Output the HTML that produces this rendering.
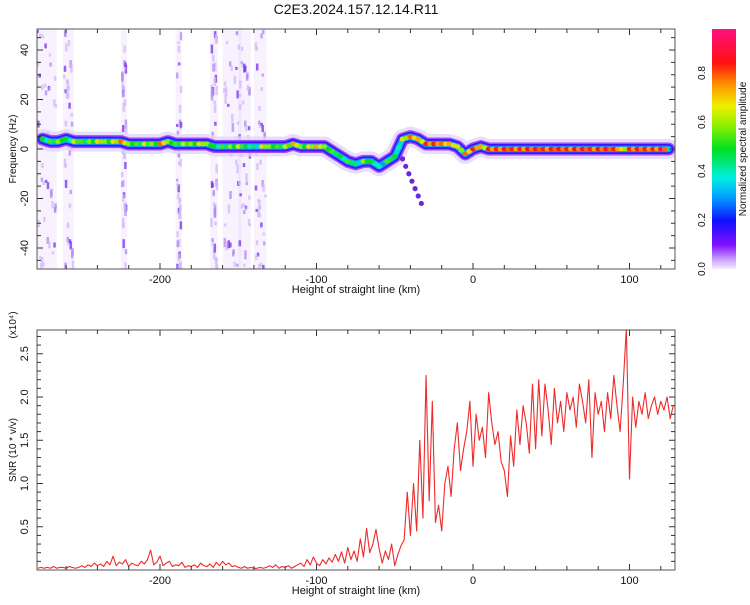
<!DOCTYPE html>
<html><head><meta charset="utf-8"><style>
body{margin:0;background:#fff;width:750px;height:600px;overflow:hidden;font-family:"Liberation Sans",sans-serif}
svg text{font-family:"Liberation Sans",sans-serif;fill:#111}
</style></head><body>
<svg id="c" width="750" height="600" viewBox="0 0 750 600" xmlns="http://www.w3.org/2000/svg">
<defs>
<linearGradient id="cmap" x1="0" y1="1" x2="0" y2="0">
<stop offset="0" stop-color="#f4ecff"/><stop offset="0.04" stop-color="#c9a0ff"/><stop offset="0.1" stop-color="#8010ff"/>
<stop offset="0.2" stop-color="#1010ff"/><stop offset="0.3" stop-color="#00a0ff"/><stop offset="0.38" stop-color="#00f0e0"/>
<stop offset="0.5" stop-color="#00e020"/><stop offset="0.6" stop-color="#90f000"/><stop offset="0.68" stop-color="#f0f000"/>
<stop offset="0.77" stop-color="#ff9000"/><stop offset="0.86" stop-color="#ff1010"/><stop offset="1" stop-color="#ff1080"/>
</linearGradient>
<clipPath id="clipTop"><rect x="37" y="29" width="638" height="240"/></clipPath>
<clipPath id="clipBot"><rect x="37" y="330" width="638" height="240"/></clipPath>
</defs>
<text x="356" y="14" font-size="14" text-anchor="middle">C2E3.2024.157.12.14.R11</text>
<g id="top"></g>
<g id="bot"></g>
<g id="cb"></g>
</svg>
<script>
// ---- data ----
const ridgeStart = -275, ridgeStep = 5;
const ridgeFreq = [4,3,3,4,3,3,3,3,3,3,3,2,2,2,2,2,3,2,2,2,2,2,1,1,1,1,1,1,1,1,1,1,2,1,1,1,1,-1,-3,-5,-6,-5,-5,-7,-5,-3,4,5,4,2,2,2,2,1,-2,0,1,0,0,0,0,0,0,0,0,0,0,0,0,0,0,0,0,0,0,0,0,0,0,0,0];
const ridgeAmp = [0.5,0.55,0.6,0.5,0.65,0.55,0.6,0.7,0.6,0.7,0.8,0.6,0.55,0.65,0.6,0.8,0.6,0.55,0.65,0.6,0.7,0.6,0.5,0.55,0.6,0.65,0.5,0.45,0.7,0.6,0.55,0.65,0.75,0.6,0.7,0.75,0.6,0.55,0.5,0.55,0.45,0.6,0.5,0.4,0.55,0.5,0.7,0.8,0.75,0.85,0.85,0.8,0.75,0.7,0.8,0.85,0.75,0.85,0.85,0.9,0.85,0.85,0.88,0.9,0.85,0.9,0.88,0.85,0.88,0.9,0.85,0.88,0.9,0.85,0.7,0.85,0.88,0.85,0.85,0.9,0.85];
const branchX = [-45,-43,-41,-39,-37,-35,-33];
const branchY = [-4,-7,-10,-13,-16,-19,-22];
const noiseBandsLo = [-279,-262,-225,-190,-168,-160,-150,-140];
const noiseBandsHi = [-266,-255,-221,-186,-163,-148,-142,-132];
const snrStart = -278, snrStep = 2;
const snr = [0.02,0.03,0.02,0.03,0.02,0.04,0.02,0.03,0.03,0.02,0.04,0.03,0.02,0.03,
0.05,0.03,0.06,0.04,0.08,0.05,0.07,0.04,0.10,0.06,0.16,0.05,0.09,0.07,0.12,0.04,0.08,0.06,0.05,0.10,0.07,0.12,0.23,0.06,0.09,
0.16,0.05,0.08,0.10,0.04,0.06,0.05,0.09,0.03,0.05,0.04,0.06,0.03,0.08,0.05,0.04,0.07,0.03,0.09,0.05,0.10,0.06,0.08,0.04,0.05,
0.03,0.02,0.04,0.02,0.03,0.02,0.02,0.03,0.02,0.03,0.05,0.03,0.06,0.02,0.04,0.03,0.05,0.02,0.04,0.06,
0.08,0.04,0.12,0.06,0.15,0.08,0.05,0.12,0.07,0.14,0.09,0.18,0.10,0.21,0.08,
0.26,0.12,0.22,0.10,0.36,0.15,0.48,0.20,0.30,0.47,
0.25,0.08,0.22,0.12,0.30,0.05,0.18,0.28,
0.35,0.90,0.40,1.00,0.45,
1.50,0.60,2.25,0.80,1.95,0.55,
0.75,0.45,1.00,1.20,0.85,1.40,
1.70,1.15,1.40,1.60,1.95,1.20,
1.80,1.50,1.65,1.30,2.05,1.70,1.45,1.60,1.25,1.15,
0.85,1.55,1.20,1.85,1.45,1.90,1.70,1.35,2.15,1.40,
2.20,1.55,2.15,1.85,1.45,2.10,1.70,1.95,1.60,2.05,
1.85,2.00,1.65,2.15,1.95,1.70,2.20,1.30,2.05,1.80,
1.95,1.60,2.05,1.75,2.25,1.90,1.60,2.15,2.80,1.05,
2.00,1.65,1.95,1.80,2.05,1.75,1.90,2.00,1.80,1.95,1.85,2.00,1.75,1.90];
const xTicks = [-200,-100,0,100];
const freqTicks = [-40,-20,0,20,40];
const snrTicks = [0.5,1.0,1.5,2.0,2.5];
const cbTicks = [0.0,0.2,0.4,0.6,0.8];

// ---- scales ----
const X0=37,X1=675;
const xs = v => 473 + v*1.565;
const ysTop = f => 149 - f*2.475;
const ysBot = s => 570 - s*86.5;
const NS='http://www.w3.org/2000/svg';
function mk(parent,tag,attrs){const e=document.createElementNS(NS,tag);for(const k in attrs)e.setAttribute(k,attrs[k]);parent.appendChild(e);return e;}
function cmap(v){
  const st=[[0,[244,236,255]],[0.1,[128,16,255]],[0.2,[16,16,255]],[0.3,[0,160,255]],[0.38,[0,240,224]],[0.5,[0,224,32]],[0.6,[144,240,0]],[0.68,[240,240,0]],[0.77,[255,144,0]],[0.86,[255,16,16]],[1,[255,16,128]]];
  for(let i=1;i<st.length;i++){if(v<=st[i][0]){const a=st[i-1],b=st[i],t=(v-a[0])/(b[0]-a[0]);return 'rgb('+a[1].map((c,j)=>Math.round(c+(b[1][j]-c)*t)).join(',')+')';}}
  return 'rgb(255,16,128)';
}

// ---- top panel ----
const topG=document.getElementById('top');
const tg=mk(topG,'g',{'clip-path':'url(#clipTop)'});


for(let i=0;i<noiseBandsLo.length;i++){
  const x=xs(noiseBandsLo[i]), w=xs(noiseBandsHi[i])-x;
  const r=mk(tg,'rect',{x:x,y:29,width:w,height:240,fill:'#d8c0f8','fill-opacity':0.2});
  
  
  for(let k=0;k<40;k++){
    const h=((k*k*37+k*11+i*53)%211)/211, h2=((k*k*13+k*29+i*17)%103)/103;
    const d=mk(tg,'rect',{x:x+h2*(w-2),y:30+h*236,width:2.5,height:3+((k*k+i)%7),fill:(k%5==0?'#7a2ee8':(k%3==0?'#b088f0':'#d2b8f8')),'fill-opacity':0.75});
    
    
  }
}
const pts=ridgeFreq.map((f,i)=>xs(ridgeStart+i*ridgeStep)+','+ysTop(f)).join(' ');
const layers=[[20,'#e4d4fb',0.8],[13,'#9a50ff',1],[10,'#4010ff',1],[6.5,'#1890ff',1],[4,'#00e0d0',1]];
layers.forEach(L=>{
  const p=mk(tg,'polyline',{points:pts,fill:'none',stroke:L[1],'stroke-width':L[0],'stroke-opacity':L[2],'stroke-linejoin':'round','stroke-linecap':'round'});
  
  
});
branchX.forEach((b,i)=>{
  const c=mk(tg,'circle',{cx:xs(b),cy:ysTop(branchY[i]),r:2.6,fill:'#6a28d8'});
  
  
});
for(let i=0;i<ridgeFreq.length-1;i++){
  for(let s=0;s<2;s++){
    const t=s/2, xv=ridgeStart+(i+t)*ridgeStep, fv=ridgeFreq[i]+(ridgeFreq[i+1]-ridgeFreq[i])*t;
    const av=ridgeAmp[i];
    const c=mk(tg,'ellipse',{cx:xs(xv),cy:ysTop(fv),rx:2.8,ry:2.3,fill:cmap(s?av-0.1:av)});
    
    
  }
}
function frame(g,y0,y1,name){
  const r=mk(g,'rect',{x:X0,y:y0,width:X1-X0,height:y1-y0,fill:'none',stroke:'#555','stroke-width':1});
  
  
  for(let v=-260;v<=120;v+=20){
    const x=xs(v), big=(v%100===0);
    mk(g,'line',{x1:x,x2:x,y1:y0,y2:y0+(big?6:4),stroke:'#333'});
    mk(g,'line',{x1:x,x2:x,y1:y1,y2:y1-(big?6:4),stroke:'#333'});
  }
  xTicks.forEach(v=>{
    const t=mk(g,'text',{x:xs(v),y:y1+14,'font-size':11,'text-anchor':'middle'});t.textContent=v;
    
    
  });
  const xl=mk(g,'text',{x:356,y:y1+24,'font-size':11,'text-anchor':'middle'});xl.textContent='Height of straight line (km)';
  
  
}
frame(topG,29,269,'spectrogram-frame');
for(let f=-45;f<=45;f+=5){
  const y=ysTop(f), big=(f%20===0);
  mk(topG,'line',{x1:X0,x2:X0+(big?6:4),y1:y,y2:y,stroke:'#333'});
  mk(topG,'line',{x1:X1,x2:X1-(big?6:4),y1:y,y2:y,stroke:'#333'});
}
freqTicks.forEach(f=>{
  const t=mk(topG,'text',{x:0,y:0,'font-size':11,'text-anchor':'middle',transform:'translate(28,'+ysTop(f)+') rotate(-90)'});t.textContent=f;
  
  
});
const yt=mk(topG,'text',{x:0,y:0,'font-size':10,'text-anchor':'middle',transform:'translate(16,149) rotate(-90)'});yt.textContent='Frequency (Hz)';



// ---- bottom panel ----
const botG=document.getElementById('bot');
const bg=mk(botG,'g',{'clip-path':'url(#clipBot)'});
const sp=snr.map((s,i)=>xs(snrStart+i*snrStep)+','+ysBot(s)).join(' ');
const line=mk(bg,'polyline',{points:sp,fill:'none',stroke:'#ee2a2a','stroke-width':1.1,'stroke-linejoin':'round'});


frame(botG,330,570,'snr-frame');
for(let k=1;k<28;k++){
  const s=k/10, y=ysBot(s), big=(k%5===0);
  mk(botG,'line',{x1:X0,x2:X0+(big?6:4),y1:y,y2:y,stroke:'#333'});
  mk(botG,'line',{x1:X1,x2:X1-(big?6:4),y1:y,y2:y,stroke:'#333'});
}
snrTicks.forEach(s=>{
  const t=mk(botG,'text',{x:0,y:0,'font-size':11,'text-anchor':'middle',transform:'translate(28,'+ysBot(s)+') rotate(-90)'});t.textContent=s.toFixed(1);
  
  
});
const yb=mk(botG,'text',{x:0,y:0,'font-size':10,'text-anchor':'middle',transform:'translate(16,450) rotate(-90)'});yb.textContent='SNR (10 * v/v)';


const ex=mk(botG,'text',{x:0,y:0,'font-size':10,'text-anchor':'middle',transform:'translate(16,325) rotate(-90)'});ex.textContent='(x10\u2074)';



// ---- colorbar ----
const cbG=document.getElementById('cb');
const cr=mk(cbG,'rect',{x:712,y:29,width:24,height:240,fill:'url(#cmap)'});


cbTicks.forEach(v=>{
  const y=269-v*245;
  const t=mk(cbG,'text',{x:0,y:0,'font-size':10,'text-anchor':'middle',transform:'translate(705,'+y+') rotate(-90)'});t.textContent=v.toFixed(1);
  
  
});
const ct=mk(cbG,'text',{x:0,y:0,'font-size':10,'text-anchor':'middle',transform:'translate(746,149) rotate(-90)'});ct.textContent='Normalized spectral amplitude';


</script>
</body></html>
